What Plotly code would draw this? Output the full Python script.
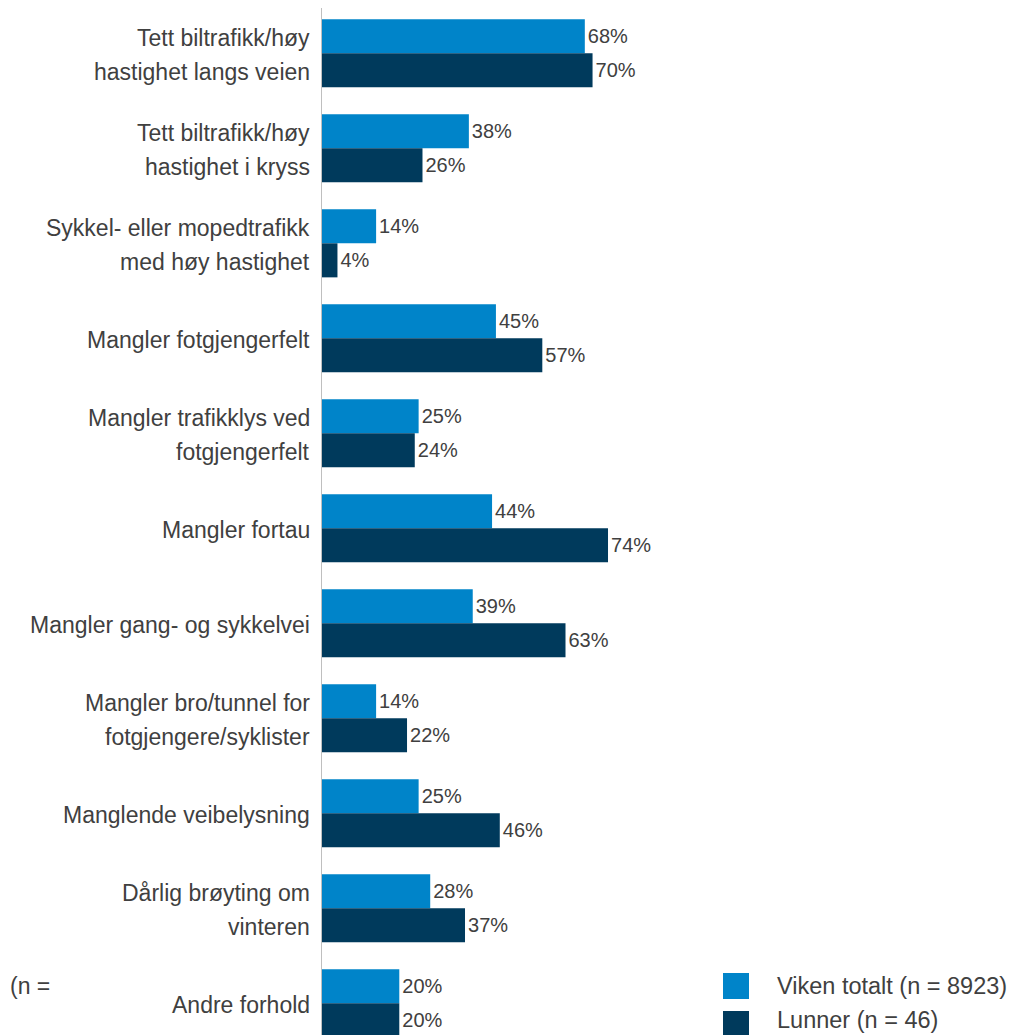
import plotly.graph_objects as go

categories = [
    "Tett biltrafikk/høy<br>hastighet langs veien",
    "Tett biltrafikk/høy<br>hastighet i kryss",
    "Sykkel- eller mopedtrafikk<br>med høy hastighet",
    "Mangler fotgjengerfelt",
    "Mangler trafikklys ved<br>fotgjengerfelt",
    "Mangler fortau",
    "Mangler gang- og sykkelvei",
    "Mangler bro/tunnel for<br>fotgjengere/syklister",
    "Manglende veibelysning",
    "Dårlig brøyting om<br>vinteren",
    "Andre forhold",
]
viken = [68, 38, 14, 45, 25, 44, 39, 14, 25, 28, 20]
lunner = [70, 26, 4, 57, 24, 74, 63, 22, 46, 37, 20]
series_names = ["Viken totalt (n = 8923)", "Lunner (n = 46)"]
colors = ["#0084C9", "#003A5C"]
stray_text = "(n ="

FONT = "Arial, Liberation Sans, sans-serif"
TXT = "#404040"

OFF = 8  # default page body margin
W, H = 1016 - OFF, 1035 - OFF
ML = 322 - OFF
px_per_pct = 3.865
xmax = (W - ML) / px_per_pct
band = 95.0
first_center = 53.3 - OFF
ytop = -first_center / band
ybottom = (H - first_center) / band

fig = go.Figure()
for name, vals, col in zip(series_names, [viken, lunner], colors):
    fig.add_trace(go.Bar(
        y=categories, x=vals, orientation="h", name=name,
        marker=dict(color=col, line=dict(width=0)),
        texttemplate="%{x}%", textposition="outside",
        textfont=dict(family=FONT, size=20, color=TXT),
        cliponaxis=False, showlegend=False,
    ))

annotations = []
for cat in categories:
    lines = cat.split("<br>")
    n = len(lines)
    for i, line in enumerate(lines):
        shift = (n - 1) / 2 * 34 - i * 34 - 1.5
        annotations.append(dict(
            x=0, xref="paper", y=cat, yref="y", text=line, showarrow=False,
            xanchor="right", yanchor="middle", xshift=-10, yshift=shift,
            font=dict(family=FONT, size=23, color=TXT),
        ))

def px2paper_x(px):
    return (px - OFF - ML) / (W - ML)

def px2paper_y(py):
    return 1 - (py - OFF) / H

shapes = []
leg_tops = [973, 1011]
leg_text_y = [986, 1020]
for name, col, top, ty in zip(series_names, colors, leg_tops, leg_text_y):
    shapes.append(dict(
        type="rect", xref="paper", yref="paper",
        x0=px2paper_x(723), x1=px2paper_x(749),
        y0=px2paper_y(top + 26), y1=px2paper_y(top),
        fillcolor=col, line=dict(width=0), layer="above",
    ))
    annotations.append(dict(
        x=px2paper_x(775), xref="paper", y=px2paper_y(ty), yref="paper",
        text=name, showarrow=False, xanchor="left", yanchor="middle",
        font=dict(family=FONT, size=23.5, color=TXT),
    ))

annotations.append(dict(
    x=px2paper_x(OFF), xref="paper", y=px2paper_y(986), yref="paper",
    text=stray_text, showarrow=False, xanchor="left", yanchor="middle",
    font=dict(family=FONT, size=23, color=TXT),
))

fig.update_layout(
    width=W, height=H,
    margin=dict(l=ML, r=0, t=0, b=0, pad=0),
    barmode="group", bargap=0.283, bargroupgap=0,
    plot_bgcolor="white", paper_bgcolor="white",
    showlegend=False,
    annotations=annotations, shapes=shapes,
    font=dict(family=FONT, color=TXT),
)
fig.update_xaxes(range=[0, xmax], visible=False, showgrid=False, zeroline=False)
fig.update_yaxes(
    range=[ybottom, ytop], showticklabels=False, ticks="",
    showline=True, linecolor="#BFBFBF", linewidth=1, showgrid=False,
    zeroline=False,
)

fig.write_html("out.html")
